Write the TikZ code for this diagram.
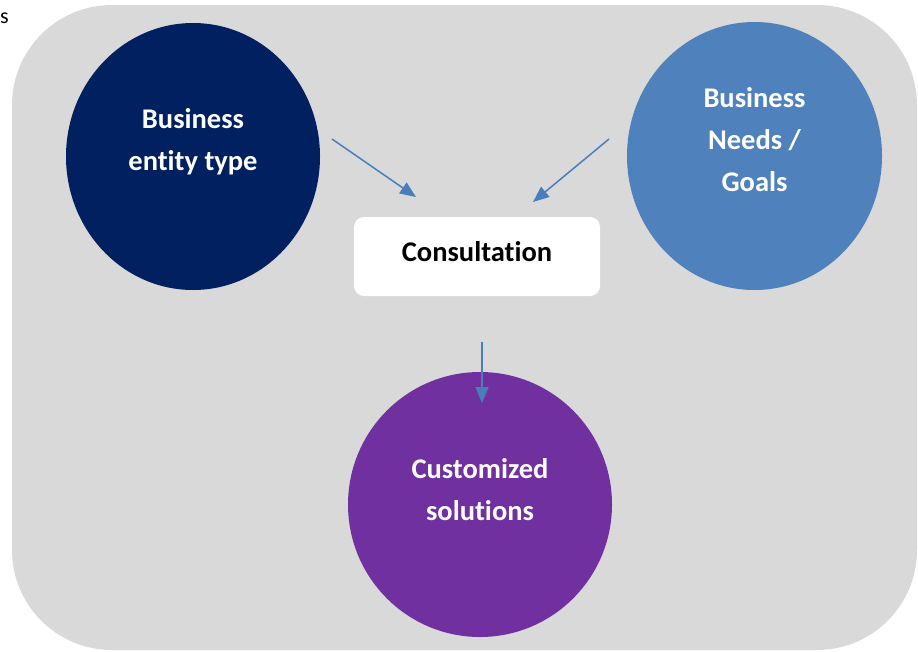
\documentclass[tikz,border=0pt]{standalone}
\usepackage{fontspec}
\setmainfont{Carlito}[Ligatures={NoCommon}]
\usetikzlibrary{shapes.geometric,arrows.meta}
\definecolor{bggray}{HTML}{D9D9D9}
\definecolor{navy}{HTML}{002060}
\definecolor{lblue}{HTML}{4F81BD}
\definecolor{purp}{HTML}{7030A0}
\definecolor{arrowc}{HTML}{4A7EBB}
\tikzset{
  circ/.style={ellipse, draw=none, inner sep=0pt},
  lbl/.style={text=white, align=center, anchor=base, inner sep=0pt,
    font=\fontsize{28.5}{42}\selectfont\bfseries},
  conn/.style={draw=arrowc, line width=1.5pt, -{Triangle[length=16pt,width=13pt]}},
}
\begin{document}
\begin{tikzpicture}[x=1pt,y=-1pt]
\useasboundingbox (0,0) rectangle (918,651);
\fill[bggray, rounded corners=100pt] (12,5) rectangle (917,650);
\node[anchor=base west, inner sep=0pt, font=\fontsize{22}{26}\selectfont] (frag) at (0,23) {s};
\node[circ, fill=navy, minimum width=254pt, minimum height=267pt] (bet) at (193,156.5) {};
\node[circ, fill=lblue, minimum width=255pt, minimum height=268pt] (bng) at (754.5,156) {};
\node[circ, fill=purp, minimum width=264pt, minimum height=265pt] (cs) at (480,504.5) {};
\node[fill=white, rounded corners=10pt, minimum width=246pt, minimum height=79pt, inner sep=0pt] (cons) at (477,256.5) {};
\node[lbl] (betl) at (193,170) {Business\\entity type};
\node[lbl] (bngl) at (754.5,191) {Business\\Needs /\\Goals};
\node[lbl] (csl) at (480,520) {Customized\\solutions};
\node[lbl, text=black] (consl) at (477,261) {Consultation};
\coordinate (a1s) at (332,139);
\coordinate (a1e) at (416,197);
\coordinate (a2s) at (609,139);
\coordinate (a2e) at (533,202);
\coordinate (a3s) at (482,342);
\coordinate (a3e) at (482,403);
\draw[conn] (a1s) -- (a1e);
\draw[conn] (a2s) -- (a2e);
\draw[conn] (a3s) -- (a3e);
\end{tikzpicture}
\end{document}
